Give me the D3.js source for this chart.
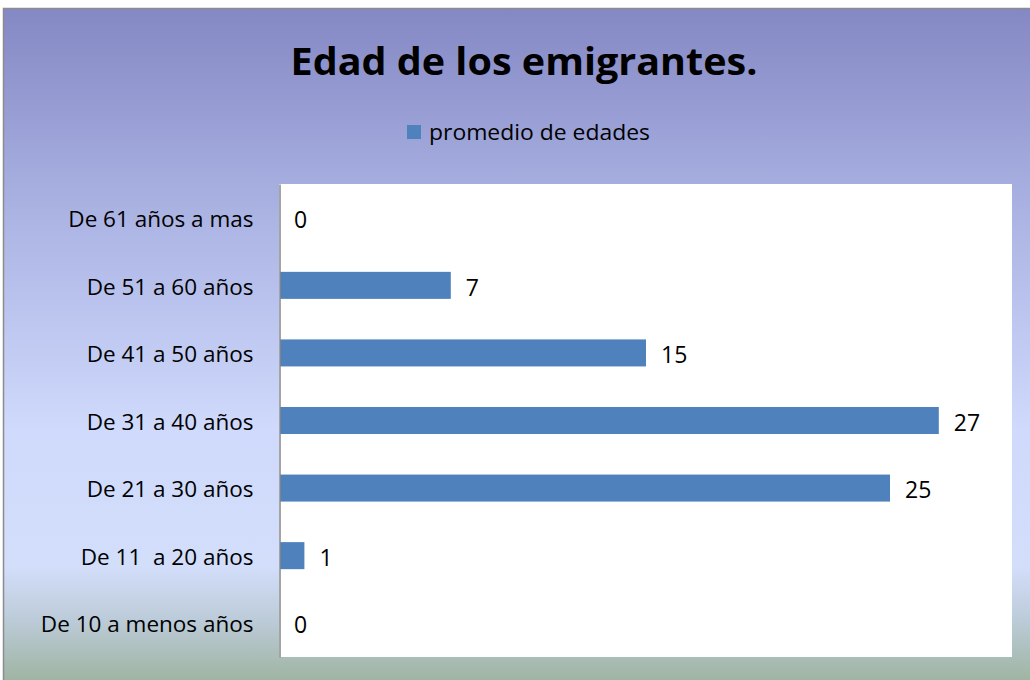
<!DOCTYPE html>
<html>
<head>
<meta charset="utf-8">
<script src="https://cdn.jsdelivr.net/npm/d3@7"></script>
<style>
  body { margin: 0; background: #fff; }
  text { font-family: "Open Sans", "Noto Sans", sans-serif; }
</style>
</head>
<body>
<div id="chart"></div>
<script>
// Data
const categories = ["De 61 años a mas", "De 51 a 60 años", "De 41 a 50 años", "De 31 a 40 años",
                    "De 21 a 30 años", "De 11  a 20 años", "De 10 a menos años"];
const values = [0, 7, 15, 27, 25, 1, 0];
const seriesName = "promedio de edades";
const chartTitle = "Edad de los emigrantes.";

const width = 1030, height = 680;
const plot = { left: 279, top: 184, right: 1012, bottom: 657 };

const svg = d3.select("#chart")
              .append("svg")
              .attr("width", width)
              .attr("height", height);

// Background gradient
const defs = svg.append("defs");
const grad = defs.append("linearGradient")
                 .attr("id", "bg")
                 .attr("x1", 0).attr("y1", 0)
                 .attr("x2", 0).attr("y2", 1);
[["0%", "#8488c4"], ["30%", "#abb3e3"], ["62%", "#cfdafc"], ["82%", "#d3defb"],
 ["90%", "#bccbd8"], ["100%", "#9bb19b"]].forEach(s => {
    grad.append("stop").attr("offset", s[0]).attr("stop-color", s[1]);
});

svg.append("rect")
   .attr("x", 3.5).attr("y", 8.5)
   .attr("width", width).attr("height", height)
   .attr("fill", "url(#bg)")
   .attr("stroke", "#8c8c8c")
   .attr("stroke-width", 1.5);

// Plot area
svg.append("rect")
   .attr("x", plot.left).attr("y", plot.top)
   .attr("width", plot.right - plot.left)
   .attr("height", plot.bottom - plot.top)
   .attr("fill", "#ffffff");

// Scales
const x = d3.scaleLinear().domain([0, 30]).range([plot.left + 1, plot.right]);
const y = d3.scaleBand().domain(categories).range([plot.top, plot.bottom]).paddingInner(0.6).paddingOuter(0.3);

// Bars
svg.selectAll(".bar")
   .data(values)
   .enter()
   .append("rect")
   .attr("class", "bar")
   .attr("x", x(0))
   .attr("y", (d, i) => y(categories[i]))
   .attr("width", d => x(d) - x(0))
   .attr("height", y.bandwidth())
   .attr("fill", "#4f81bd");

// Value labels
svg.selectAll(".val")
   .data(values)
   .enter()
   .append("text")
   .attr("class", "val")
   .attr("x", d => x(d) + (d === 0 ? 14 : 15))
   .attr("y", (d, i) => y(categories[i]) + y.bandwidth() / 2 + 2)
   .attr("dy", "0.36em")
   .attr("font-size", 23)
   .attr("fill", "#000")
   .text(d => d);

// Y axis (line + labels)
const yAxis = svg.append("g")
                 .attr("transform", `translate(${plot.left + 0.5}, 0)`)
                 .call(d3.axisLeft(y).tickSize(0).tickPadding(26));
yAxis.select(".domain").attr("stroke", "#868686").attr("stroke-width", 1.5);
yAxis.selectAll("text")
     .attr("font-size", 22.5)
     .attr("fill", "#000")
     .attr("y", 2)
     .style("white-space", "pre")
     .style("font-family", "'Open Sans', sans-serif");

// Title
svg.append("text")
   .attr("x", 524)
   .attr("y", 75)
   .attr("text-anchor", "middle")
   .attr("font-size", 37)
   .attr("font-weight", "bold")
   .attr("fill", "#000")
   .attr("textLength", 467)
   .attr("lengthAdjust", "spacingAndGlyphs")
   .text(chartTitle);

// Legend
svg.append("rect")
   .attr("x", 407).attr("y", 125)
   .attr("width", 14).attr("height", 14)
   .attr("fill", "#4f81bd");
svg.append("text")
   .attr("x", 429)
   .attr("y", 132)
   .attr("dy", "0.36em")
   .attr("font-size", 21)
   .attr("fill", "#000")
   .attr("textLength", 221)
   .attr("lengthAdjust", "spacingAndGlyphs")
   .text(seriesName);
</script>
</body>
</html>
